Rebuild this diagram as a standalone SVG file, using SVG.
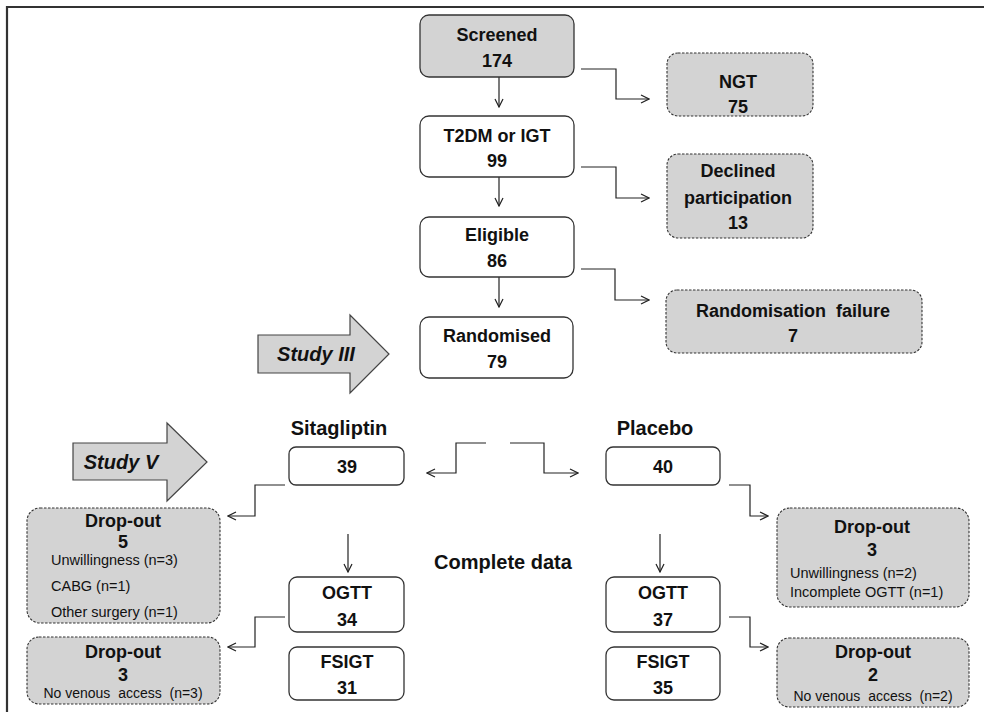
<svg xmlns="http://www.w3.org/2000/svg" width="984" height="712" viewBox="0 0 984 712">
<defs>
<style>
.box{fill:#fff;stroke:#333;stroke-width:1.3}
.gbox{fill:#d3d3d3;stroke:#333;stroke-width:1.3}
.dbox{fill:#d3d3d3;stroke:#333;stroke-width:1.1;stroke-dasharray:2.5 1.5}
.b{font-family:"Liberation Sans",Arial,sans-serif;font-weight:bold;font-size:18px;fill:#111;text-anchor:middle}
.lb{font-family:"Liberation Sans",Arial,sans-serif;font-weight:bold;font-size:20px;fill:#111;text-anchor:middle}
.it{font-family:"Liberation Sans",Arial,sans-serif;font-weight:bold;font-style:italic;font-size:20px;fill:#111;text-anchor:middle}
.s{font-family:"Liberation Sans",Arial,sans-serif;font-size:14.5px;fill:#111;white-space:pre}
.sv{font-family:"Liberation Sans",Arial,sans-serif;font-size:14px;fill:#111;white-space:pre;text-anchor:middle}
.con{fill:none;stroke:#222;stroke-width:1.2}
.bigarrow{fill:#d3d3d3;stroke:#444;stroke-width:1.2}
</style>
<marker id="ah" viewBox="0 0 10 10" refX="9" refY="5" markerWidth="10" markerHeight="10" markerUnits="userSpaceOnUse" orient="auto">
<path d="M1,1 L9,5 L1,9" fill="none" stroke="#222" stroke-width="1.2"/>
</marker>
</defs>
<rect width="984" height="712" fill="#fff"/>
<path d="M7,712 L7,7 L984,7" fill="none" stroke="#333" stroke-width="2.2"/>

<g id="connectors">
<path class="con" d="M499,77 L499,107" marker-end="url(#ah)"/>
<path class="con" d="M499,177 L499,206" marker-end="url(#ah)"/>
<path class="con" d="M499,277 L499,307" marker-end="url(#ah)"/>
<path class="con" d="M581,69 L616,69 L616,99 L649,99" marker-end="url(#ah)"/>
<path class="con" d="M581,167 L616,167 L616,198 L649,198" marker-end="url(#ah)"/>
<path class="con" d="M581,269 L615,269 L615,300 L649,300" marker-end="url(#ah)"/>
<path class="con" d="M486,443 L456,443 L456,473 L427,473" marker-end="url(#ah)"/>
<path class="con" d="M510,443 L544,443 L544,473 L578,473" marker-end="url(#ah)"/>
<path class="con" d="M285,485 L255,485 L255,516 L228,516" marker-end="url(#ah)"/>
<path class="con" d="M285,617 L255,617 L255,647 L228,647" marker-end="url(#ah)"/>
<path class="con" d="M729,485 L750,485 L750,516 L768,516" marker-end="url(#ah)"/>
<path class="con" d="M729,617 L750,617 L750,647 L768,647" marker-end="url(#ah)"/>
<path class="con" d="M348,534 L348,572" marker-end="url(#ah)"/>
<path class="con" d="M660,534 L660,572" marker-end="url(#ah)"/>
</g>

<g id="screened">
<rect class="gbox" x="420" y="15" width="154" height="62" rx="9"/>
<text class="b" x="497" y="41">Screened</text>
<text class="b" x="497" y="67">174</text>
</g>
<g id="ngt">
<rect class="dbox" x="667" y="53" width="146" height="63" rx="11"/>
<text class="b" x="738" y="88">NGT</text>
<text class="b" x="738" y="113">75</text>
</g>
<g id="t2dm">
<rect class="box" x="420" y="116" width="154" height="61" rx="9"/>
<text class="b" x="497" y="142">T2DM or IGT</text>
<text class="b" x="497" y="167">99</text>
</g>
<g id="declined">
<rect class="dbox" x="667" y="154" width="146" height="84" rx="11"/>
<text class="b" x="738" y="177">Declined</text>
<text class="b" x="738" y="204">participation</text>
<text class="b" x="738" y="229">13</text>
</g>
<g id="eligible">
<rect class="box" x="420" y="217" width="154" height="60" rx="9"/>
<text class="b" x="497" y="241">Eligible</text>
<text class="b" x="497" y="267">86</text>
</g>
<g id="randfail">
<rect class="dbox" x="666" y="290" width="256" height="63" rx="11"/>
<text class="b" x="793" y="317" style="white-space:pre">Randomisation  failure</text>
<text class="b" x="793" y="342">7</text>
</g>
<g id="randomised">
<rect class="box" x="420" y="317" width="153" height="61" rx="9"/>
<text class="b" x="497" y="342">Randomised</text>
<text class="b" x="497" y="368">79</text>
</g>
<g id="study3">
<path class="bigarrow" d="M258,335 L350,335 L350,315 L389,354 L350,393 L350,373 L258,373 Z"/>
<text class="it" x="316" y="361">Study III</text>
</g>
<g id="study5">
<path class="bigarrow" d="M73,443 L167,443 L167,423 L207,462 L167,501 L167,480 L73,480 Z"/>
<text class="it" x="121" y="469">Study V</text>
</g>
<g id="sitagliptin-label">
<text class="lb" x="339" y="435">Sitagliptin</text>
</g>
<g id="placebo-label">
<text class="lb" x="655" y="435">Placebo</text>
</g>
<g id="complete-label">
<text class="lb" x="503" y="569">Complete data</text>
</g>
<g id="sita39">
<rect class="box" x="289" y="447" width="115" height="38" rx="7"/>
<text class="b" x="347" y="473">39</text>
</g>
<g id="plac40">
<rect class="box" x="606" y="447" width="114" height="38" rx="7"/>
<text class="b" x="663" y="473">40</text>
</g>
<g id="dropout5">
<rect class="dbox" x="27" y="508" width="193" height="115" rx="13"/>
<text class="b" x="123" y="527">Drop-out</text>
<text class="b" x="123" y="548">5</text>
<text class="s" x="51" y="565">Unwillingness (n=3)</text>
<text class="s" x="51" y="591">CABG (n=1)</text>
<text class="s" x="51" y="617">Other surgery (n=1)</text>
</g>
<g id="dropout3p">
<rect class="dbox" x="777" y="508" width="192" height="99" rx="13"/>
<text class="b" x="872" y="533">Drop-out</text>
<text class="b" x="872" y="556">3</text>
<text class="s" x="790" y="578">Unwillingness (n=2)</text>
<text class="s" x="790" y="597">Incomplete OGTT (n=1)</text>
</g>
<g id="ogtt34">
<rect class="box" x="289" y="577" width="115" height="55" rx="8"/>
<text class="b" x="347" y="599">OGTT</text>
<text class="b" x="347" y="626">34</text>
</g>
<g id="ogtt37">
<rect class="box" x="606" y="577" width="114" height="55" rx="8"/>
<text class="b" x="663" y="599">OGTT</text>
<text class="b" x="663" y="626">37</text>
</g>
<g id="fsigt31">
<rect class="box" x="289" y="647" width="115" height="53" rx="8"/>
<text class="b" x="347" y="668">FSIGT</text>
<text class="b" x="347" y="694">31</text>
</g>
<g id="fsigt35">
<rect class="box" x="606" y="647" width="114" height="53" rx="8"/>
<text class="b" x="663" y="668">FSIGT</text>
<text class="b" x="663" y="694">35</text>
</g>
<g id="dropout3s">
<rect class="dbox" x="27" y="637" width="193" height="67" rx="12"/>
<text class="b" x="123" y="658">Drop-out</text>
<text class="b" x="123" y="681">3</text>
<text class="sv" x="123" y="698">No venous  access  (n=3)</text>
</g>
<g id="dropout2p">
<rect class="dbox" x="777" y="638" width="192" height="69" rx="12"/>
<text class="b" x="873" y="658">Drop-out</text>
<text class="b" x="873" y="681">2</text>
<text class="sv" x="873" y="701">No venous  access  (n=2)</text>
</g>
</svg>
